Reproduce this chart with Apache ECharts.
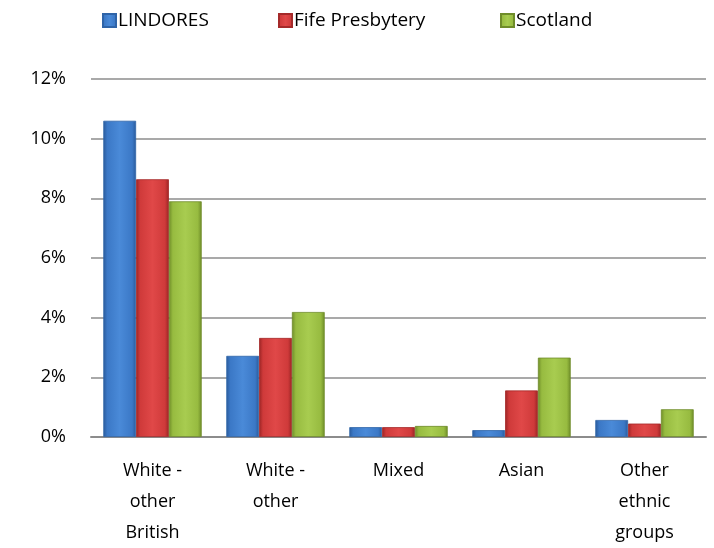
<!DOCTYPE html>
<html><head><meta charset="utf-8">
<script src="https://cdn.jsdelivr.net/npm/echarts@6/dist/echarts.min.js"></script>
<style>html,body{margin:0;padding:0;background:#fff}#c{width:714px;height:548px}</style>
</head><body><div id="c"></div>
<script>
const categories = ["White -\nother\nBritish", "White -\nother", "Mixed", "Asian", "Other\nethnic\ngroups"];
const seriesNames = ["LINDORES", "Fife Presbytery", "Scotland"];
const lindores = [10.6, 2.72, 0.33, 0.23, 0.57];
const fife = [8.64, 3.32, 0.33, 1.56, 0.45];
const scotland = [7.9, 4.19, 0.37, 2.66, 0.93];
const yTicks = [0, 2, 4, 6, 8, 10, 12];

const font = "'Open Sans', 'Noto Sans', sans-serif";
function grad(light, mid, dark) {
  return new echarts.graphic.LinearGradient(0, 0, 1, 0, [
    {offset: 0, color: dark}, {offset: 0.12, color: mid}, {offset: 0.5, color: light},
    {offset: 0.88, color: mid}, {offset: 1, color: dark}
  ]);
}
const colors = [
  grad('#4a8ad8', '#3b78c6', '#2a5a9a'),
  grad('#e04848', '#cf3a3a', '#9a2424'),
  grad('#a8cc50', '#97bb40', '#6e8c28')
];
const borders = ['#2f64a8', '#a52a2a', '#6f8c2a'];
const dataSets = [lindores, fife, scotland];
const legendLeft = [97, 273, 495];

const chart = echarts.init(document.getElementById('c'), null, {renderer: 'canvas'});
chart.setOption({
  animation: false,
  legend: seriesNames.map((n, i) => ({
    data: [n], left: legendLeft[i], top: 6, itemWidth: 13, itemHeight: 13, itemGap: 4,
    icon: 'rect',
    textStyle: {fontFamily: font, fontSize: 19, color: '#000', padding: [0, 0, 0, -3]}
  })),
  grid: {left: 91, right: 8, top: 79, bottom: 106},
  xAxis: {
    type: 'category', data: categories,
    axisLine: {lineStyle: {color: '#8c8c8c', width: 2}},
    axisTick: {show: false},
    axisLabel: {fontFamily: font, fontSize: 18, color: '#000', lineHeight: 31, margin: 18, interval: 0}
  },
  yAxis: {
    type: 'value', min: 0, max: 12, interval: 2,
    axisLine: {show: false}, axisTick: {show: false},
    splitLine: {lineStyle: {color: '#8c8c8c', width: 1.5}},
    axisLabel: {fontFamily: font, fontSize: 18, color: '#000', margin: 25,
      formatter: v => yTicks.includes(v) ? v + '%' : ''}
  },
  series: seriesNames.map((n, i) => ({
    name: n, type: 'bar', data: dataSets[i],
    barGap: '0%', barCategoryGap: '20%',
    itemStyle: {color: colors[i], borderColor: borders[i], borderWidth: 0.8},
    emphasis: {disabled: true}
  }))
});
</script></body></html>
